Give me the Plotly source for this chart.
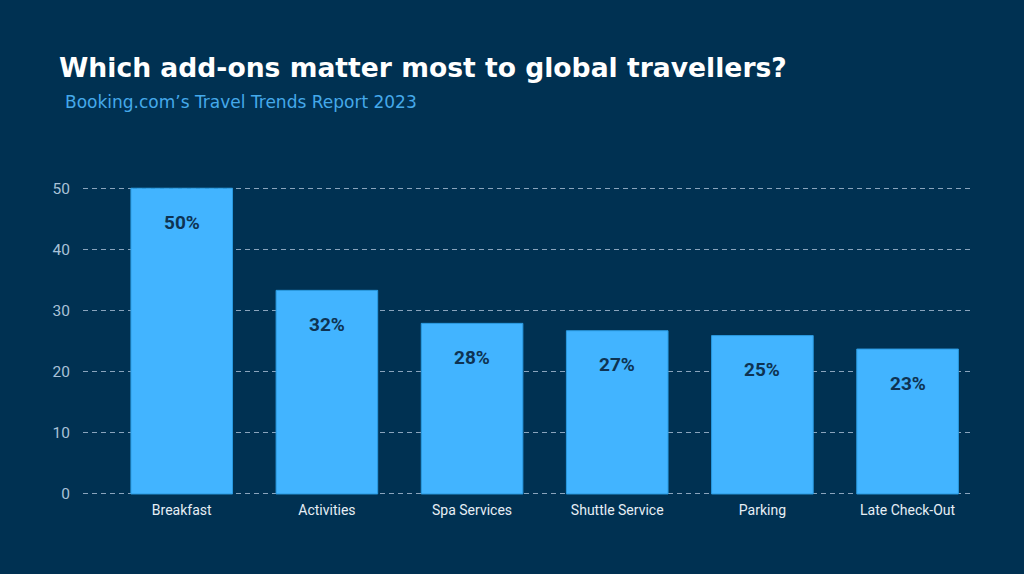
import plotly.graph_objects as go

categories = ["Breakfast", "Activities", "Spa Services", "Shuttle Service", "Parking", "Late Check-Out"]
values = [50, 33.3, 27.9, 26.7, 25.9, 23.7]
labels = ["50%", "32%", "28%", "27%", "25%", "23%"]
y_ticks = [0, 10, 20, 30, 40, 50]

BG = "#003152"
BAR = "#42B4FF"

fig = go.Figure()
fig.add_trace(go.Bar(
    x=categories, y=values, width=0.7,
    marker=dict(color=BAR, line=dict(color="#2A9AE0", width=1)),
    hoverinfo="skip",
))

for c, v, t in zip(categories, values, labels):
    fig.add_annotation(x=c, y=v, text=t, showarrow=False, yshift=-34,
                       font=dict(family="Roboto, sans-serif", size=19, color="#0E3352", weight=700))

fig.update_layout(
    width=1024, height=574,
    paper_bgcolor=BG, plot_bgcolor=BG,
    margin=dict(l=83, r=54, t=176, b=78),
    showlegend=False,
    bargap=0.3,
    xaxis=dict(range=[-0.68, 5.43], showgrid=False, zeroline=False, showline=False,
               tickfont=dict(family="Roboto", size=14, color="#E6EEF5"), ticks="", ticklabelstandoff=4),
    yaxis=dict(range=[-0.33, 52], tickvals=y_ticks, showgrid=True, gridcolor="#8AA4BD", griddash="5px,4px",
               gridwidth=1, zeroline=False, showline=False,
               tickfont=dict(family="Roboto", size=15.5, color="#A9C2D8"), ticks="", ticklabelstandoff=12),
    annotations=list(fig.layout.annotations) + [
        dict(text="Which add-ons matter most to global travellers?", xref="paper", yref="paper",
             x=(57 - 83) / 887, y=1, yshift=176 - 67, xanchor="left", yanchor="middle", showarrow=False,
             font=dict(family="DejaVu Sans, sans-serif", size=26.6, color="#FFFFFF", weight=700)),
        dict(text="Booking.com’s Travel Trends Report 2023", xref="paper", yref="paper",
             x=(63 - 83) / 887, y=1, yshift=176 - 102, xanchor="left", yanchor="middle", showarrow=False,
             font=dict(family="DejaVu Sans, sans-serif", size=17, color="#45A9EA")),
    ],
)

fig.write_html("out.html")
